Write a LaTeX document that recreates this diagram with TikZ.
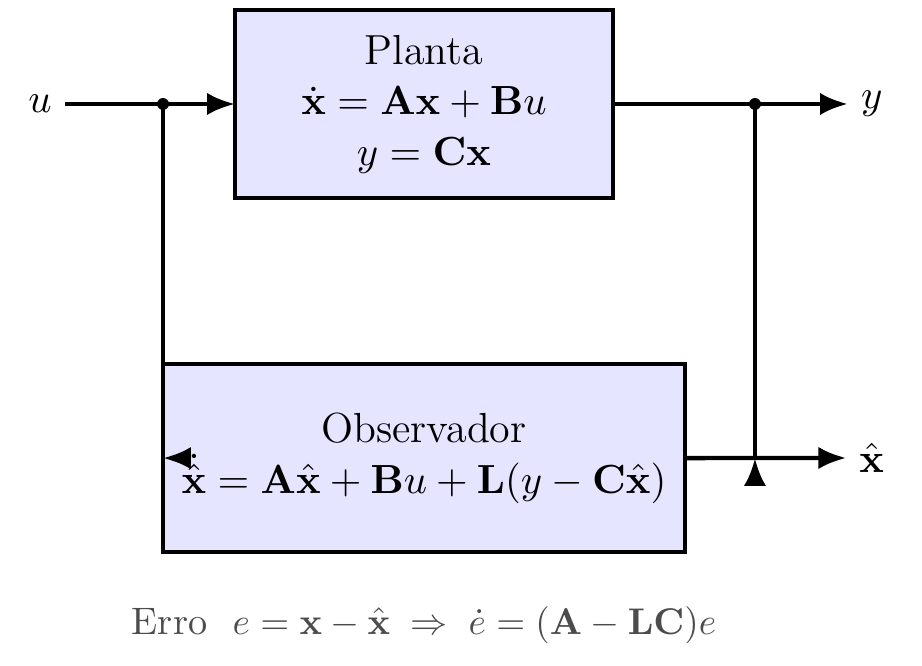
\documentclass[tikz,border=0pt]{standalone}
\usepackage{amsmath, amssymb}
\usepackage{xcolor}
\usepackage{tikz}
\usetikzlibrary{positioning, arrows.meta}

\begin{document}
\begin{tikzpicture}[
    node distance=1.57cm,
    block/.style={draw, very thick, fill=blue!10, align=center, inner sep=2pt, outer sep=0pt, minimum height=1.777cm, font=\fontsize{11.3}{13.6}\selectfont},
    sig/.style={draw, very thick},
    tip/.style={-{Latex[length=7.5pt,width=6pt]}},
    junct/.style={circle, fill, inner sep=0pt, minimum size=3.2pt},
    lbl/.style={font=\fontsize{11.3}{13.6}\selectfont}
]
\useasboundingbox (0,0) rectangle (8.715,6.295);

\node[block, minimum width=3.573cm] (planta) at (4.008,5.312) {Planta\\ $\dot{\mathbf{x}} = \mathbf{A}\mathbf{x} + \mathbf{B}u$\\ $y = \mathbf{C}\mathbf{x}$};
\node[block, minimum width=4.934cm, below=of planta] (obs) {Observador\\ $\dot{\hat{\mathbf{x}}} = \mathbf{A}\hat{\mathbf{x}} + \mathbf{B}u + \mathbf{L}(y - \mathbf{C}\hat{\mathbf{x}})$};

\node[lbl] (u) at (0.378,5.312) {$u$};
\node[lbl] (yout) at (8.24,5.312) {$y$};
\node[lbl] (xhat) at (8.24,1.966) {$\hat{\mathbf{x}}$};
\node[junct] (j1) at (obs.west |- planta.west) {};
\node[junct] (j2) at (7.136,5.312) {};
\coordinate (k1) at (obs.west);
\coordinate (k2) at (j2 |- obs.east);

\draw[sig, tip] (u) -- (planta);
\draw[sig, tip] (planta) -- (yout);
\draw[sig] (j1.center) -- (k1);
\draw[sig, tip] ([xshift=7.5pt]k1) -- (k1);
\draw[sig] (j2.center) -- (k2);
\draw[sig, tip] (obs) -- (xhat);
\draw[sig, tip] ([yshift=-7.5pt]k2) -- (k2);

\node[text=black!70, font=\fontsize{10.3}{12.4}\selectfont] (erro) at (4.008,0.39) {Erro~~$e = \mathbf{x} - \hat{\mathbf{x}} \;\Rightarrow\; \dot{e} = (\mathbf{A} - \mathbf{L}\mathbf{C})e$};
\end{tikzpicture}
\end{document}
